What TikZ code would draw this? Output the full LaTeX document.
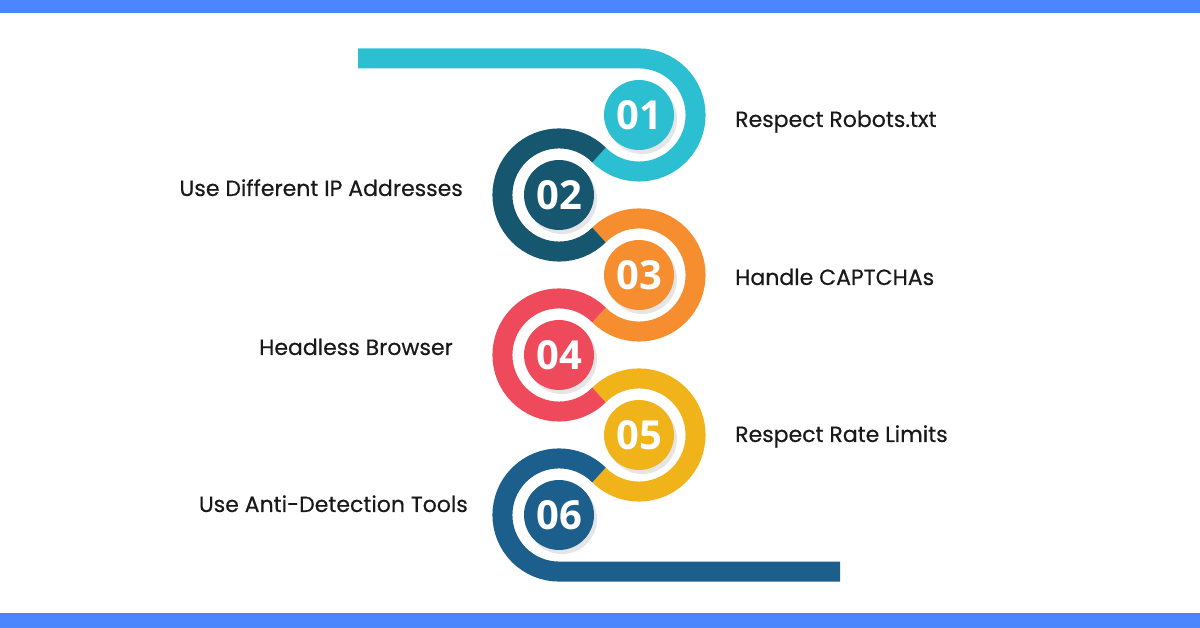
\documentclass[tikz,border=0pt]{standalone}
\usepackage{fontspec}
\setmainfont{Poppins}
\newfontfamily\labelfont{Poppins}[FakeBold=0.45]
\newfontfamily\numfont{Open Sans}
\usetikzlibrary{calc,positioning}

\definecolor{barblue}{HTML}{4A86FF}
\definecolor{cOne}{HTML}{2BBFD1}
\definecolor{cTwo}{HTML}{17566F}
\definecolor{cThree}{HTML}{F68D2E}
\definecolor{cFour}{HTML}{EF4A5C}
\definecolor{cFive}{HTML}{F0B31A}
\definecolor{cSix}{HTML}{1D5F8C}

\begin{document}
\begin{tikzpicture}[
  x=1pt, y=1pt,
  ring/.style={line width=20pt},
  disk/.style={circle, minimum size=70pt, inner sep=0pt, text=white,
    font=\numfont\bfseries\fontsize{40}{40}\selectfont},
  shade/.style={circle, minimum size=70pt, inner sep=0pt, fill=black!10},
  label/.style={font=\labelfont\fontsize{22}{26}\selectfont, text=black!90, inner sep=0pt}
]
\useasboundingbox (0,0) rectangle (1200,628);

% --- bars ---
\fill[barblue] (0,615) rectangle (1200,628);
\fill[barblue] (0,0) rectangle (1200,15);

% --- parameters ---
\def\R{56.57}      % ring radius
% centres: right column x=639, left column x=559, step 80
\coordinate (c1) at (639,513);
\coordinate (c2) at (559,433);
\coordinate (c3) at (639,353);
\coordinate (c4) at (559,273);
\coordinate (c5) at (639,193);
\coordinate (c6) at (559,113);
\coordinate (start) at (358,569.57);
\coordinate (finish) at (840,56.43);

% --- rings ---
\draw[ring,cOne] (start) -- ($(c1)+(0,\R)$) arc[start angle=90,end angle=-135,radius=\R];
\foreach \i/\col in {3/cThree,5/cFive}
  \draw[ring,\col] ($(c\i)+(135:\R)$) arc[start angle=135,end angle=-135,radius=\R];
\foreach \i/\col in {2/cTwo,4/cFour}
  \draw[ring,\col] ($(c\i)+(45:\R)$) arc[start angle=45,end angle=315,radius=\R];
\draw[ring,cSix] ($(c6)+(45:\R)$) arc[start angle=45,end angle=270,radius=\R] -- (finish);

% --- numbered disks ---
\foreach \i/\col in {1/cOne,2/cTwo,3/cThree,4/cFour,5/cFive,6/cSix} {
  \node[shade] at ($(c\i)+(3,-4)$) {};
  \node[disk,fill=\col] (d\i) at (c\i) {0\i};
}

% --- labels ---
\node[label,anchor=base west] (l1) at (735,501) {Respect Robots.txt};
\node[label,anchor=base east] (l2) at (463,432) {Use Different IP Addresses};
\node[label,anchor=base west] (l3) at (735,343) {Handle CAPTCHAs};
\node[label,anchor=base east] (l4) at (453,273) {Headless Browser};
\node[label,anchor=base west] (l5) at (735,186) {Respect Rate Limits};
\node[label,anchor=base east] (l6) at (468,116) {Use Anti-Detection Tools};

\end{tikzpicture}
\end{document}
